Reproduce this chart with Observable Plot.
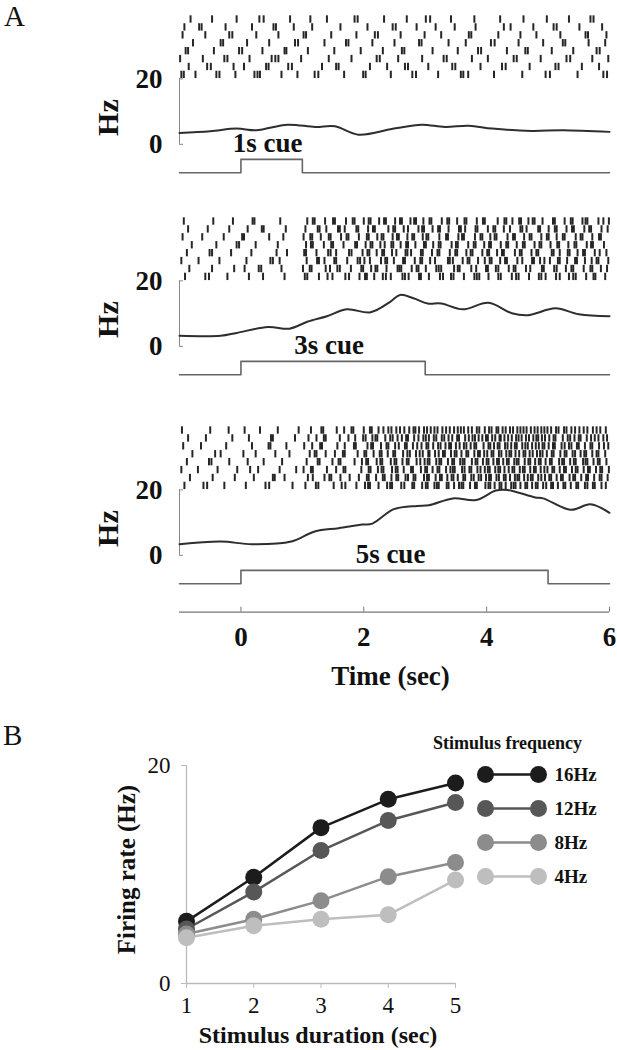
<!DOCTYPE html>
<html><head><meta charset="utf-8">
<script src="https://cdn.jsdelivr.net/npm/d3@7"></script>
<script src="https://cdn.jsdelivr.net/npm/@observablehq/plot@0.6"></script>
<style>
body{margin:0;background:#fff;}
#fig{position:relative;width:617px;height:1050px;overflow:hidden;background:#fff;font-family:"Liberation Serif","Times New Roman",serif;}
#fig > *{position:absolute;}
.plabel{font-size:29px;line-height:29px;color:#111;}
</style></head><body>
<div id="fig"><div class="plabel" style="left:4px;top:2px">A</div><div class="plabel" style="left:3px;top:721px">B</div></div>
<script>
// ---------- Panel A data ----------
const timeDomain = [-1, 6];
const timeTicks = [0, 2, 4, 6];
const hzTicks = [0, 20];
const cueDurations = [1, 3, 5];

const rateTimes1 = [-1, -0.5, -0.07, 0.25, 0.76, 1.21, 1.53, 1.91, 2.49, 2.94, 3.32, 3.71, 4.09, 4.73, 5.24, 6.0];
const rateValues1 = [3.45, 4.0, 4.8, 4.3, 6.0, 5.3, 5.5, 2.95, 4.8, 6.0, 5.3, 5.7, 4.8, 4.1, 4.3, 3.8];
const rateTimes3 = [-1, -0.33, -0.07, 0.44, 0.79, 1.08, 1.40, 1.72, 2.11, 2.43, 2.59, 2.81, 3.04, 3.26, 3.61, 4.03, 4.41, 4.67, 5.12, 5.50, 6.0];
const rateValues3 = [3.2, 3.2, 4.1, 5.9, 5.4, 7.5, 9.2, 11.3, 10.4, 13.6, 15.7, 14.7, 13.1, 13.1, 11.3, 13.3, 10.1, 9.5, 11.6, 9.8, 9.2];
const rateTimes5 = [-1, -0.33, 0.18, 0.82, 1.2, 1.59, 1.98, 2.14, 2.49, 2.87, 3.06, 3.45, 3.83, 4.15, 4.34, 4.79, 4.92, 5.37, 5.69, 6.0];
const rateValues5 = [3.4, 4.2, 3.4, 4.2, 7.3, 8.3, 9.4, 9.7, 14.1, 15.1, 15.3, 17.4, 16.9, 19.8, 20.0, 17.7, 17.4, 13.9, 15.6, 13.0];

// spike times (sec), one array per trial
const spikes1 = [
[-0.97,-0.93,-0.74,-0.40,-0.35,-0.09,0.22,0.27,0.31,0.66,0.92,1.20,1.26,1.68,1.99,2.03,2.44,2.79,2.85,3.21,3.58,3.62,3.70,4.12,4.58,4.96,5.03,5.48,5.90,5.96],
[-0.85,-0.55,-0.49,-0.12,0.05,0.41,0.45,0.77,0.83,1.32,1.55,1.59,2.10,2.38,2.67,2.72,3.05,3.44,3.49,3.90,4.25,4.31,4.70,5.12,5.17,5.55,5.83],
[-0.99,-0.62,-0.27,-0.22,0.14,0.50,0.56,0.61,0.98,1.43,1.80,2.21,2.26,2.56,2.95,3.30,3.35,3.76,4.02,4.44,4.49,4.88,5.30,5.36,5.72,5.98],
[-0.90,-0.86,-0.44,-0.03,0.02,0.35,0.71,0.74,1.09,1.52,1.95,2.31,2.62,2.66,3.12,3.53,3.86,3.91,4.33,4.63,4.67,5.06,5.41,5.79,5.84],
[-0.78,-0.33,-0.29,0.10,0.46,0.88,0.93,1.36,1.71,1.75,2.14,2.50,2.90,2.94,3.38,3.66,4.07,4.13,4.52,4.92,5.24,5.28,5.66,5.93],
[-0.95,-0.58,-0.19,-0.14,0.25,0.61,1.02,1.06,1.47,1.88,2.18,2.23,2.60,2.99,3.26,3.71,3.75,4.19,4.55,4.81,5.20,5.61,5.65,5.95],
[-0.92,-0.68,-0.64,-0.25,0.18,0.53,0.57,0.86,1.16,1.62,2.06,2.47,2.52,2.86,3.17,3.48,3.82,4.28,4.39,4.76,5.09,5.14,5.51,5.88],
[-0.82,-0.47,-0.07,0.30,0.37,0.80,1.13,1.40,1.85,1.90,2.33,2.70,3.01,3.08,3.42,3.80,4.22,4.60,4.98,5.34,5.69,5.74]
];
const spikes3 = [
[-0.91,-0.58,-0.52,-0.22,0.13,0.36,0.71,1.04,1.08,1.27,1.41,1.49,1.70,1.76,1.93,2.02,2.05,2.17,2.31,2.36,2.44,2.63,2.67,2.73,2.90,2.93,3.06,3.24,3.29,3.42,3.46,3.63,3.80,3.84,3.88,4.03,4.19,4.23,4.41,4.48,4.52,4.69,4.85,4.89,4.96,5.13,5.19,5.34,5.41,5.45,5.62,5.74,5.77,5.93],
[-0.84,-0.47,-0.11,0.06,0.29,0.33,0.66,1.01,1.12,1.15,1.38,1.45,1.57,1.61,1.79,1.96,1.99,2.12,2.19,2.22,2.37,2.55,2.58,2.61,2.78,2.86,2.89,3.01,3.18,3.22,3.26,3.47,3.53,3.56,3.75,3.83,3.99,4.02,4.15,4.19,4.36,4.44,4.47,4.64,4.71,4.90,4.93,5.10,5.14,5.29,5.38,5.41,5.58,5.69,5.72,5.86,5.96],
[-0.97,-0.69,-0.35,0.09,0.48,0.52,0.63,1.07,1.24,1.27,1.36,1.52,1.55,1.73,1.90,1.94,2.01,2.10,2.28,2.35,2.38,2.49,2.64,2.67,2.83,2.92,2.95,3.08,3.16,3.37,3.40,3.45,3.61,3.69,3.72,3.86,3.97,4.05,4.08,4.22,4.30,4.33,4.50,4.58,4.74,4.77,4.87,4.94,5.03,5.16,5.19,5.31,5.44,5.47,5.60,5.71,5.79,5.82,5.98],
[-0.88,-0.51,-0.47,-0.16,0.17,0.58,0.75,1.03,1.06,1.23,1.42,1.46,1.55,1.76,1.80,1.98,2.06,2.09,2.21,2.30,2.33,2.46,2.53,2.68,2.71,2.77,2.93,2.96,3.11,3.20,3.23,3.40,3.49,3.52,3.67,3.74,3.77,3.93,4.01,4.04,4.17,4.25,4.28,4.46,4.54,4.57,4.73,4.81,4.84,5.06,5.09,5.19,5.32,5.35,5.48,5.57,5.60,5.76,5.84,5.95],
[-0.80,-0.40,-0.07,-0.03,0.24,0.60,1.06,1.14,1.17,1.35,1.47,1.50,1.67,1.86,1.89,2.03,2.11,2.14,2.27,2.34,2.45,2.48,2.60,2.69,2.72,2.84,2.98,3.01,3.13,3.22,3.25,3.43,3.50,3.53,3.70,3.79,3.82,3.96,4.04,4.07,4.23,4.32,4.35,4.49,4.59,4.62,4.78,4.86,4.89,5.04,5.15,5.18,5.33,5.43,5.46,5.63,5.70,5.73,5.91],
[-0.95,-0.63,-0.28,0.02,0.05,0.46,0.69,1.02,1.13,1.16,1.30,1.43,1.46,1.63,1.72,1.75,1.92,2.05,2.08,2.22,2.29,2.32,2.47,2.54,2.57,2.71,2.79,2.82,2.96,3.02,3.05,3.23,3.34,3.37,3.54,3.60,3.63,3.81,3.90,3.93,4.06,4.13,4.16,4.34,4.43,4.46,4.61,4.70,4.73,4.89,4.98,5.01,5.14,5.24,5.27,5.45,5.53,5.56,5.72,5.83,5.86],
[-0.86,-0.54,-0.19,0.11,0.34,0.37,0.73,1.05,1.25,1.28,1.39,1.58,1.61,1.69,1.88,1.91,2.07,2.15,2.18,2.40,2.48,2.51,2.65,2.72,2.89,2.95,2.98,3.12,3.21,3.24,3.38,3.55,3.58,3.65,3.82,3.85,4.02,4.11,4.14,4.28,4.38,4.55,4.58,4.65,4.84,4.87,5.01,5.11,5.14,5.30,5.39,5.42,5.59,5.67,5.70,5.87,5.97],
[-0.93,-0.45,-0.13,0.19,0.22,0.64,1.08,1.17,1.20,1.37,1.50,1.53,1.71,1.82,1.85,2.00,2.08,2.11,2.25,2.33,2.36,2.51,2.59,2.62,2.76,2.82,2.85,2.97,3.07,3.10,3.27,3.36,3.39,3.52,3.64,3.67,3.84,3.94,3.97,4.18,4.29,4.32,4.42,4.53,4.56,4.68,4.75,4.78,4.91,5.08,5.11,5.27,5.37,5.40,5.56,5.61,5.64,5.82,5.90,5.99]
];
const spikes5 = [
[-0.92,-0.61,-0.55,-0.27,0.08,0.40,0.46,0.84,1.05,1.22,1.26,1.51,1.64,1.70,1.88,2.02,2.07,2.10,2.24,2.38,2.43,2.46,2.61,2.66,2.79,2.82,2.95,3.01,3.04,3.15,3.19,3.22,3.35,3.38,3.47,3.55,3.59,3.62,3.73,3.81,3.84,3.98,4.03,4.06,4.13,4.21,4.24,4.31,4.40,4.44,4.47,4.55,4.63,4.66,4.74,4.80,4.83,4.92,4.97,5.05,5.08,5.16,5.25,5.28,5.37,5.46,5.49,5.60,5.64,5.73,5.76,5.87,5.94],
[-0.83,-0.46,-0.10,0.21,0.52,0.55,0.71,1.09,1.17,1.36,1.44,1.47,1.62,1.77,1.92,2.05,2.08,2.20,2.31,2.34,2.45,2.53,2.56,2.68,2.72,2.81,2.84,2.98,3.03,3.06,3.17,3.24,3.27,3.36,3.43,3.46,3.53,3.62,3.65,3.75,3.79,3.87,3.91,3.99,4.04,4.07,4.16,4.20,4.28,4.31,4.38,4.46,4.50,4.53,4.61,4.67,4.72,4.75,4.84,4.89,4.95,5.02,5.05,5.14,5.21,5.24,5.35,5.41,5.44,5.54,5.62,5.65,5.75,5.84,5.87,5.97],
[-0.97,-0.70,-0.38,-0.06,0.15,0.28,0.63,0.90,1.02,1.14,1.17,1.40,1.55,1.67,1.70,1.96,2.08,2.11,2.23,2.29,2.32,2.46,2.52,2.55,2.65,2.77,2.80,2.93,3.00,3.03,3.12,3.20,3.23,3.34,3.41,3.45,3.48,3.60,3.64,3.72,3.75,3.85,3.90,3.97,4.02,4.05,4.14,4.19,4.22,4.29,4.36,4.42,4.45,4.54,4.59,4.62,4.71,4.77,4.80,4.88,4.94,4.99,5.07,5.10,5.19,5.26,5.29,5.39,5.45,5.48,5.58,5.65,5.68,5.78,5.85,5.88,5.99],
[-0.88,-0.52,-0.48,-0.19,0.11,0.37,0.67,1.07,1.25,1.28,1.49,1.59,1.62,1.85,1.97,2.04,2.07,2.21,2.27,2.30,2.44,2.50,2.53,2.63,2.70,2.73,2.86,2.92,2.99,3.04,3.07,3.18,3.23,3.26,3.37,3.44,3.47,3.57,3.61,3.64,3.76,3.82,3.85,3.94,4.00,4.03,4.11,4.17,4.20,4.27,4.33,4.36,4.45,4.49,4.52,4.62,4.68,4.71,4.79,4.85,4.88,4.96,5.03,5.06,5.18,5.23,5.26,5.36,5.42,5.45,5.57,5.61,5.64,5.74,5.81,5.84,5.95],
[-0.79,-0.42,-0.33,0.04,0.24,0.56,0.79,1.12,1.20,1.23,1.38,1.53,1.66,1.69,1.90,2.01,2.04,2.16,2.26,2.29,2.39,2.48,2.51,2.64,2.71,2.75,2.85,2.91,2.96,3.05,3.07,3.16,3.22,3.29,3.32,3.42,3.48,3.51,3.59,3.67,3.70,3.80,3.86,3.89,3.96,4.01,4.08,4.11,4.20,4.24,4.32,4.37,4.40,4.47,4.53,4.60,4.63,4.70,4.75,4.82,4.87,4.91,4.98,5.06,5.09,5.20,5.27,5.30,5.40,5.44,5.53,5.59,5.62,5.72,5.79,5.82,5.93],
[-0.94,-0.65,-0.24,0.18,0.45,0.48,0.74,1.03,1.16,1.29,1.32,1.57,1.69,1.84,1.87,2.06,2.12,2.15,2.28,2.37,2.40,2.51,2.57,2.67,2.70,2.80,2.87,2.94,3.02,3.05,3.13,3.21,3.25,3.33,3.39,3.42,3.50,3.56,3.63,3.67,3.74,3.80,3.83,3.95,4.03,4.06,4.12,4.18,4.21,4.30,4.34,4.40,4.46,4.49,4.58,4.63,4.67,4.74,4.80,4.85,4.91,4.94,5.01,5.08,5.11,5.22,5.27,5.34,5.38,5.47,5.50,5.60,5.69,5.72,5.83,5.91,5.98],
[-0.86,-0.57,-0.14,0.13,0.49,0.52,0.88,1.10,1.23,1.35,1.38,1.61,1.75,1.86,1.99,2.03,2.14,2.19,2.22,2.35,2.43,2.47,2.55,2.62,2.69,2.72,2.82,2.89,2.97,3.01,3.06,3.14,3.18,3.27,3.31,3.38,3.44,3.52,3.55,3.65,3.71,3.77,3.81,3.87,3.93,3.99,4.02,4.09,4.14,4.21,4.23,4.29,4.35,4.41,4.48,4.52,4.57,4.64,4.69,4.76,4.81,4.84,4.90,4.95,5.02,5.09,5.12,5.24,5.32,5.36,5.43,5.50,5.53,5.63,5.70,5.76,5.82,5.90,5.96],
[-0.96,-0.50,-0.20,0.06,0.31,0.60,0.94,1.14,1.31,1.34,1.56,1.68,1.80,1.83,2.00,2.10,2.13,2.24,2.32,2.40,2.45,2.53,2.59,2.66,2.74,2.81,2.84,2.90,2.98,3.03,3.09,3.15,3.20,3.28,3.34,3.40,3.47,3.53,3.58,3.63,3.70,3.76,3.84,3.88,3.97,4.04,4.08,4.16,4.19,4.26,4.31,4.38,4.43,4.50,4.55,4.60,4.65,4.72,4.78,4.83,4.89,4.94,4.99,5.05,5.13,5.17,5.26,5.30,5.38,5.44,5.51,5.58,5.64,5.73,5.79,5.85,5.94]
];

// ---------- Panel B data ----------
const durations = [1, 2, 3, 4, 5];
const freqSeries = ["16Hz", "12Hz", "8Hz", "4Hz"];
const rate16 = [5.7, 9.75, 14.3, 16.9, 18.4];
const rate12 = [5.0, 8.4, 12.2, 14.95, 16.6];
const rate8 = [4.55, 5.9, 7.6, 9.8, 11.1];
const rate4 = [4.2, 5.3, 5.9, 6.3, 9.5];
const rateTicksB = [0, 20];

// ---------- styling / layout ----------
const freqColors = ["#1c1c1c", "#575757", "#8c8c8c", "#bebebe"];
const FONT = '"Liberation Serif", "Times New Roman", serif';
const PX_PER_HZ = 3.27;
const Y_TOP = 40, Y_BOT = -10, Y_AXIS_BOT = -17.4;
const CUE_LOW = -8.7, CUE_HIGH = -4.6;
const ROW_H = 2.42, TICK_LEN = 2.25;
const zeroPx = [144, 346, 555];

const fig = document.getElementById("fig");
function place(el, left, top) { el.style.left = left + "px"; el.style.top = top + "px"; fig.appendChild(el); }

const spikeSets = [spikes1, spikes3, spikes5];
const rateTimes = [rateTimes1, rateTimes3, rateTimes5];
const rateValues = [rateValues1, rateValues3, rateValues5];

function panelA(k) {
  const last = k === 2;
  const yMin = last ? Y_AXIS_BOT : Y_BOT;
  const plotH = (Y_TOP - yMin) * PX_PER_HZ;
  const marginBottom = last ? 90 : 0;
  const spikes = spikeSets[k].flatMap((trial, i) => trial.map(t => ({t, trial: i})));
  const rate = rateTimes[k].map((t, j) => ({t, v: rateValues[k][j]}));
  const dur = cueDurations[k];
  const cue = [{t: timeDomain[0], on: 0}, {t: 0, on: 1}, {t: dur, on: 0}, {t: timeDomain[1], on: 0}];
  const base = hzTicks[1];
  const marks = [
    Plot.ruleX(spikes, {x: "t", y1: d => base + d.trial * ROW_H + 0.1, y2: d => base + d.trial * ROW_H + 0.1 + TICK_LEN, stroke: "#1a1a1a", strokeOpacity: 0.95, strokeWidth: 2}),
    Plot.ruleX([timeDomain[0]], {y1: hzTicks[0], y2: hzTicks[1], stroke: "#888", strokeWidth: 1}),
    Plot.axisY({ticks: hzTicks, tickSize: -4, tickPadding: 21, stroke: "#888", fontSize: 27, fontWeight: "bold", tickFormat: "d", label: null}),
    Plot.text(["Hz"], {text: d => d, y: (hzTicks[0] + hzTicks[1]) / 2, frameAnchor: "left", textAnchor: "middle", lineAnchor: "middle", dx: -71, dy: 6, rotate: -90, fontSize: 30, fontWeight: "bold"}),
    Plot.line(rate, {x: "t", y: "v", curve: "catmull-rom", stroke: "#2e2e2e", strokeWidth: 2}),
    Plot.line(cue, {x: "t", y: d => CUE_LOW + d.on * (CUE_HIGH - CUE_LOW), curve: "step-after", stroke: "#666", strokeWidth: 1.6}),
    Plot.text([dur], {x: d => d / 2, y: CUE_HIGH, text: d => `${d}s cue`, lineAnchor: "bottom", textAnchor: "middle", dy: -7, dx: -4, fontSize: 27, fontWeight: "bold"})
  ];
  if (last) {
    marks.push(Plot.ruleY([yMin], {stroke: "#777", strokeWidth: 1.2}));
    marks.push(Plot.axisX({ticks: timeTicks, tickSize: -5, tickPadding: 19.5, stroke: "#777", fontSize: 27, fontWeight: "bold", tickFormat: "d", label: null}));
    marks.push(Plot.text(["Time (sec)"], {text: d => d, frameAnchor: "bottom", lineAnchor: "middle", textAnchor: "middle", dy: 64, dx: -4, fontSize: 27, fontWeight: "bold"}));
  }
  const svg = Plot.plot({
    width: 617, height: plotH + marginBottom,
    marginLeft: 179, marginRight: 8, marginTop: 0, marginBottom,
    x: {domain: timeDomain, axis: null},
    y: {domain: [yMin, Y_TOP], axis: null},
    style: {fontFamily: FONT, fontSize: "27px", fontWeight: "bold", background: "transparent", color: "#111", overflow: "visible"},
    marks
  });
  place(svg, 0, zeroPx[k] - Y_TOP * PX_PER_HZ);
}
[0, 1, 2].forEach(panelA);

// Panel B
const seriesValues = [rate16, rate12, rate8, rate4];
const bData = freqSeries.flatMap((s, i) => durations.map((d, j) => ({series: s, dur: d, rate: seriesValues[i][j]})));
const colorScale = {domain: freqSeries, range: freqColors};
const svgB = Plot.plot({
  width: 617, height: 330, marginLeft: 186, marginRight: 162, marginTop: 45, marginBottom: 67,
  x: {domain: [durations[0], durations[durations.length - 1]], axis: null},
  y: {domain: rateTicksB, axis: null},
  color: colorScale,
  style: {fontFamily: FONT, fontSize: "23px", fontWeight: "normal", background: "transparent", color: "#111", overflow: "visible"},
  marks: [
    Plot.ruleX([durations[0]], {y1: rateTicksB[0], y2: rateTicksB[1], stroke: "#bbb", strokeWidth: 1.3}),
    Plot.ruleY([rateTicksB[0]], {stroke: "#bbb", strokeWidth: 1.3}),
    Plot.axisY({ticks: rateTicksB, tickSize: 5, tickPadding: 11, stroke: "#bbb", fontSize: 23, tickFormat: "d", label: null}),
    Plot.axisX({ticks: durations, tickSize: 5, tickPadding: 8, stroke: "#bbb", fontSize: 23, tickFormat: "d", label: null}),
    Plot.text(["Firing rate (Hz)"], {text: d => d, frameAnchor: "left", textAnchor: "middle", lineAnchor: "middle", dx: -60, dy: -5, rotate: -90, fontSize: 25, fontWeight: "bold"}),
    Plot.text(["Stimulus duration (sec)"], {text: d => d, frameAnchor: "bottom", textAnchor: "middle", lineAnchor: "middle", dy: 52, dx: -3, fontSize: 24, fontWeight: "bold"}),
    Plot.line(bData, {x: "dur", y: "rate", z: "series", stroke: "series", strokeWidth: 2.5}),
    Plot.dot(bData, {x: "dur", y: "rate", fill: "series", r: 8.5})
  ]
});
place(svgB, 0, 720);

// Legend
const legData = freqSeries.flatMap(s => [0, 1].map(e => ({series: s, end: e})));
const svgL = Plot.plot({
  width: 217, height: 165, marginLeft: 85, marginRight: 79, marginTop: 48, marginBottom: 13.5,
  x: {domain: [0, 1], axis: null},
  y: {type: "point", domain: freqSeries, padding: 0, axis: null},
  color: colorScale,
  style: {fontFamily: FONT, fontSize: "19px", fontWeight: "bold", background: "transparent", color: "#111", overflow: "visible"},
  marks: [
    Plot.line(legData, {x: "end", y: "series", z: "series", stroke: "series", strokeWidth: 2.5}),
    Plot.dot(legData, {x: "end", y: "series", fill: "series", r: 8.5}),
    Plot.text(freqSeries, {x: 1, y: d => d, text: d => d, dx: 16, textAnchor: "start", fontSize: 19, fontWeight: "bold"}),
    Plot.text(["Stimulus frequency"], {text: d => d, frameAnchor: "top", lineAnchor: "middle", textAnchor: "middle", dy: -30, dx: -4.5, fontSize: 18, fontWeight: "bold"})
  ]
});
place(svgL, 400, 725);
</script>
</body></html>
